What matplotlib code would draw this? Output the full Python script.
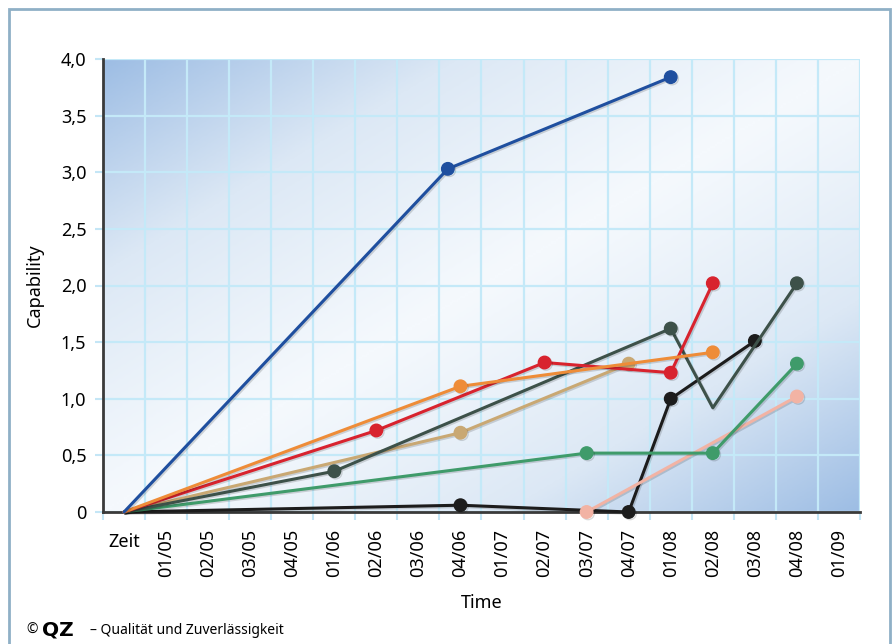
import numpy as np
import matplotlib.pyplot as plt
import matplotlib.patheffects as pe
from matplotlib.colors import LinearSegmentedColormap
from matplotlib.patches import Rectangle

plt.rcParams['font.family'] = ['Noto Sans', 'DejaVu Sans']

time_labels = ['Zeit', '01/05', '02/05', '03/05', '04/05', '01/06', '02/06', '03/06', '04/06',
               '01/07', '02/07', '03/07', '04/07', '01/08', '02/08', '03/08', '04/08', '01/09']
cap_ticks = [0, 0.5, 1.0, 1.5, 2.0, 2.5, 3.0, 3.5, 4.0]
cap_labels = ['0', '0,5', '1,0', '1,5', '2,0', '2,5', '3,0', '3,5', '4,0']

# x = position on the time axis (0 = Zeit), y = capability
black_x = [0, 8, 12, 13, 15]
black_y = [0, 0.06, 0.0, 1.0, 1.51]
pink_x = [11, 16]
pink_y = [0, 1.02]
green_x = [0, 11, 14, 16]
green_y = [0, 0.52, 0.52, 1.31]
tan_x = [0, 8, 12]
tan_y = [0, 0.70, 1.31]
grey_x = [0, 5, 13, 14, 16]
grey_y = [0, 0.36, 1.62, 0.92, 2.02]
red_x = [0, 6, 10, 13, 14]
red_y = [0, 0.72, 1.32, 1.23, 2.02]
orange_x = [0, 8, 14]
orange_y = [0, 1.11, 1.41]
blue_x = [0, 7.7, 13]
blue_y = [0, 3.03, 3.84]

series = [
    (black_x, black_y, '#1c1c1c', [1, 2, 3, 4]),
    (pink_x, pink_y, '#f2b3a4', [0, 1]),
    (green_x, green_y, '#3f9b6a', [1, 2, 3]),
    (tan_x, tan_y, '#c9a873', [1, 2]),
    (grey_x, grey_y, '#3d5149', [1, 2, 4]),
    (red_x, red_y, '#d8232e', [1, 2, 3, 4]),
    (orange_x, orange_y, '#ee8c38', [1, 2]),
    (blue_x, blue_y, '#1f4f9f', [1, 2]),
]

fig = plt.figure(figsize=(8.93, 6.44), dpi=100)
ax = fig.add_axes([103/893, 1-512/644, 757/893, 453/644])

# background gradient
bg = LinearSegmentedColormap.from_list('bg', ['#f5f9fd', '#dce8f5', '#9dbde4'])
u, v = np.meshgrid(np.linspace(0, 1, 300), np.linspace(1, 0, 200))
ax.imshow(np.abs(u - v) ** 1.1, cmap=bg, extent=(-0.5, 17.5, 0, 4), aspect='auto',
          origin='upper', zorder=0, vmin=0, vmax=1)

shadow = [pe.SimpleLineShadow(offset=(1, -1), alpha=0.15), pe.Normal()]
for xs, ys, col, marks in series:
    ax.plot(xs, ys, color=col, lw=2.2, marker='o', markevery=marks, markersize=9,
            markerfacecolor=col, markeredgecolor=col, solid_capstyle='round',
            path_effects=shadow, zorder=3, clip_on=False)

ax.set_xlim(-0.5, 17.5)
ax.set_ylim(0, 4)
ax.set_axisbelow(True)

# first label ("Zeit") stays horizontal, the dates are rotated
ax.set_xticks(range(len(time_labels)))
ax.set_xticklabels([''] + time_labels[1:], rotation=90, fontsize=13)
ax.text(0, -0.066, time_labels[0], transform=ax.get_xaxis_transform(),
        ha='center', va='center', fontsize=13)
ax.set_xticks(np.arange(-0.5, 18, 1), minor=True)
ax.set_yticks(cap_ticks)
ax.set_yticklabels(cap_labels, fontsize=13)

ax.tick_params(axis='x', which='major', length=0, pad=12)
ax.tick_params(axis='x', which='minor', length=6, width=1.5, color='#c4e6f6')
ax.tick_params(axis='y', length=6, width=1.5, color='#c4e6f6', pad=6)
ax.grid(axis='x', which='minor', color='#c4e9f8', lw=1.6)
ax.grid(axis='y', which='major', color='#c4e9f8', lw=1.6)

for s in ['top', 'right']:
    ax.spines[s].set_visible(False)
for s in ['left', 'bottom']:
    ax.spines[s].set_color('#3a3a3a')
    ax.spines[s].set_linewidth(2)
    ax.spines[s].set_zorder(2.5)

ax.set_ylabel('Capability', fontsize=13, labelpad=12)
ax.set_xlabel('Time', fontsize=13, labelpad=12)

# outer frame and footer
fig.patches.append(Rectangle((9/893, -0.1), 881/893, 1.1 - 9/644, transform=fig.transFigure,
                             fill=False, edgecolor='#8fb0c6', lw=2))
fig.text(26/893, 1-630/644, '©', fontsize=10, va='center')
fig.text(42/893, 1-630/644, 'QZ', fontsize=14.5, fontweight='bold', va='center', family='DejaVu Sans')
fig.text(90/893, 1-630/644, '– Qualität und Zuverlässigkeit', fontsize=10, va='center')

plt.savefig('out.png', dpi=100)
